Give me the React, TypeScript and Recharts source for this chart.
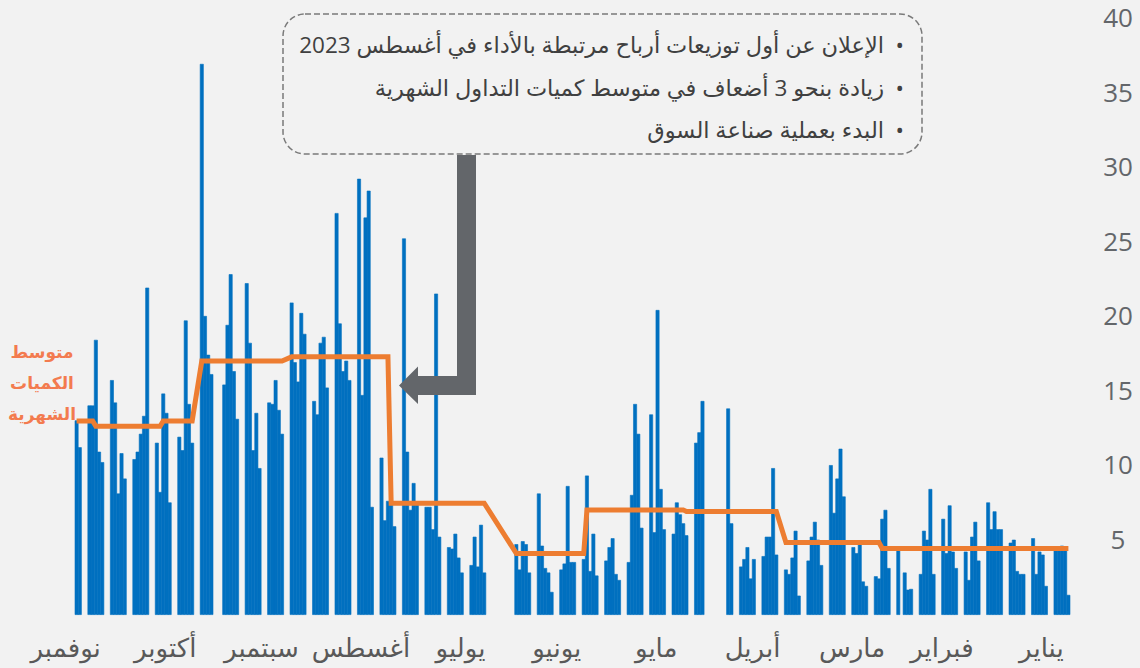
import { ComposedChart, Bar, Line, XAxis, YAxis } from "recharts";

const YEAR = 2023;
const MONTHS = ["يناير", "فبراير", "مارس", "أبريل", "مايو", "يونيو", "يوليو", "أغسطس", "سبتمبر", "أكتوبر", "نوفمبر"];

// daily traded volume, one value per trading day (Sun–Thu), chronological
const JAN = [1.3, 4.3, 4.6, 4.4, 4.5, 1.9, 4.0, 4.2, 2.7, 5.1, 2.7, 2.7, 2.9, 5.0, 4.8, 5.7, 5.7, 6.9, 5.7, 7.5, 3.6, 6.2, 5.2];
const FEB = [2.3, 4.2, 3.1, 4.2, 7.3, 4.1, 6.4, 2.7, 8.4, 5.0, 5.6, 2.7, 1.7, 1.65, 2.8, 4.3, 3.1, 7.0, 6.4];
const MAR = [2.4, 2.55, 1.9, 2.2, 4.7, 4.1, 4.5, 7.9, 11.1, 9.1, 6.8, 10.0, 3.3, 5.0, 6.2, 5.2, 3.6, 1.25, 5.6, 3.8, 2.7, 3.0];
const APR = [4.0, 9.8, 5.2, 5.2, 3.9, 3.7, 2.4, 4.5, 3.7, 3.2, 6.1, 13.8, 14.3, 12.2, 11.5, 5.3];
const MAY = [6.1, 6.7, 7.5, 5.4, 5.7, 8.4, 20.4, 5.5, 13.4, 5.8, 12.1, 14.1, 8.0, 3.5, 2.3, 2.7, 5.1, 4.5, 3.6, 2.6, 5.4, 2.9, 9.3];
const JUN = [3.7, 3.5, 3.5, 8.6, 3.4, 3.0, 1.5, 2.8, 3.1, 4.6, 8.1, 2.8, 4.7, 4.9, 3.0, 4.7];
const JUL = [2.8, 6.0, 3.2, 5.2, 3.3, 2.8, 3.8, 5.4, 4.4, 4.5, 5.2, 21.5, 5.7, 7.2, 7.2, 7.5, 8.8, 7.0, 10.9, 25.2, 5.9, 7.6];
const AUG = [7.6, 6.3, 10.5, 7.2, 28.4, 26.6, 14.7, 29.2, 15.7, 17.0, 16.3, 19.5, 26.9, 15.2, 18.6, 18.2, 13.4, 14.3, 18.8, 20.2, 15.6, 16.9, 20.9];
const SEP = [12.1, 13.7, 15.7, 14.1, 14.2, 9.8, 13.5, 11.0, 18.2, 22.2, 13.1, 16.3, 22.8, 19.4, 15.4, 16.1, 17.4, 20.0, 36.9];
const OCT = [11.5, 14.1, 19.7, 11.0, 11.9, 7.5, 13.5, 14.8, 8.2, 11.5, 21.9, 13.3, 12.1, 10.9, 10.4, 9.1, 10.8, 8.1, 14.2, 15.7, 10.2, 10.9, 18.4];
const NOV = [14.0, 14.0, 11.2, 13.0];
const DAILY = [JAN, FEB, MAR, APR, MAY, JUN, JUL, AUG, SEP, OCT, NOV];

// market closed (besides Fri/Sat)
const HOLIDAYS = ["02-22", "04-18", "04-19", "04-20", "04-23", "04-24", "06-25", "06-26", "06-27", "06-28", "06-29", "09-24"];
const LAST_DAY = "11-06";

// monthly average volume (orange step line): [from MM-DD, value]
const AVG_STEPS: [string, number][] = [
  ["01-01", 4.43],
  ["03-01", 4.83],
  ["04-01", 6.91],
  ["05-01", 7.02],
  ["06-01", 4.1],
  ["07-01", 7.47],
  ["08-01", 17.28],
  ["09-01", 17.0],
  ["10-01", 12.98],
  ["10-11", 12.62],
  ["11-01", 12.98],
];

const Y_TICKS = [5, 10, 15, 20, 25, 30, 35, 40];

const NOTES = [
  "الإعلان عن أول توزيعات أرباح مرتبطة بالأداء في أغسطس 2023",
  "زيادة بنحو 3 أضعاف في متوسط كميات التداول الشهرية",
  "البدء بعملية صناعة السوق",
];
const AVG_LABEL = ["متوسط", "الكميات", "الشهرية"];

const BLUE = "#0070C0";
const ORANGE = "#ED7D31";
const GREY = "#63666A";
const FONT = "'Open Sans', 'DejaVu Sans', sans-serif";

type Row = { d: number; month: number; first: boolean; vol: number | null; avg: number | null };

const pad = (n: number) => String(n).padStart(2, "0");

function avgFor(key: string) {
  let v = AVG_STEPS[0][1];
  for (const [from, val] of AVG_STEPS) if (from <= key) v = val;
  return v;
}

function buildRows(): Row[] {
  const rows: Row[] = [];
  const cursor = DAILY.map(() => 0);
  for (let d = 0; d < 400; d++) {
    const dt = new Date(Date.UTC(YEAR, 0, 1 + d));
    const m = dt.getUTCMonth();
    const day = dt.getUTCDate();
    const key = `${pad(m + 1)}-${pad(day)}`;
    const trading = dt.getUTCDay() <= 4 && !HOLIDAYS.includes(key);
    let vol: number | null = null;
    let avg: number | null = null;
    if (trading) {
      vol = DAILY[m][cursor[m]++] ?? null;
      avg = avgFor(key);
    }
    rows.push({ d, month: m, first: day === 1, vol, avg });
    if (key === LAST_DAY) break;
  }
  return rows;
}

const ROWS = buildRows();
const MONTH_TICKS = ROWS.filter((r) => r.first).map((r) => r.d);

function MonthTick({ x, y, payload }: any) {
  const row = ROWS[payload.value];
  return (
    <text x={x - 27} y={y + 34} textAnchor="middle" fill="#595959" fontSize={26} fontFamily={FONT}>
      {MONTHS[row.month]}
    </text>
  );
}

function ValueTick({ x, y, payload }: any) {
  return (
    <text x={x + 40} y={y} dy={9} textAnchor="middle" fill={GREY} fontSize={26} fontFamily={FONT}>
      {payload.value}
    </text>
  );
}

export default function App() {
  return (
    <div style={{ position: "absolute", left: 0, top: 0, width: 1140, height: 668, background: "#F2F2F2", overflow: "hidden" }}>
      <ComposedChart
        width={1140}
        height={668}
        data={ROWS}
        margin={{ top: 18, right: 0, bottom: 0, left: 75 }}
        barCategoryGap={0}
        barGap={0}
      >
        <XAxis
          dataKey="d"
          type="category"
          reversed
          ticks={MONTH_TICKS}
          interval={0}
          axisLine={false}
          tickLine={false}
          height={53.4}
          tick={<MonthTick />}
        />
        <YAxis
          orientation="right"
          domain={[0, 40]}
          ticks={Y_TICKS}
          axisLine={false}
          tickLine={false}
          width={70}
          tick={<ValueTick />}
        />
        <Bar dataKey="vol" fill={BLUE} stroke={BLUE} strokeWidth={0.6} barSize={3.2} isAnimationActive={false} />
        <Line
          dataKey="avg"
          type="linear"
          stroke={ORANGE}
          strokeWidth={5}
          dot={false}
          activeDot={false}
          connectNulls
          isAnimationActive={false}
        />
      </ComposedChart>

      <svg width={1140} height={668} style={{ position: "absolute", left: 0, top: 0, pointerEvents: "none" }}>
        <rect x={283} y={14} width={639} height={140} rx={22} fill="none" stroke="#7A7A7A" strokeWidth={1.5} strokeDasharray="6 3" />
        <polygon
          points="457,155 476,155 476,395 418,395 418,404 399,385.5 418,366.5 418,376 457,376"
          fill={GREY}
        />
      </svg>

      <div
        style={{
          position: "absolute",
          left: 283,
          top: 24,
          width: 621,
          direction: "rtl",
          fontFamily: FONT,
          fontSize: 22.5,
          color: "#404040",
        }}
      >
        {NOTES.map((t) => (
          <div key={t} style={{ height: 42.5, lineHeight: "42.5px", whiteSpace: "nowrap" }}>
            <span style={{ display: "inline-block", width: 20 }}>•</span>
            {t}
          </div>
        ))}
      </div>

      <div
        style={{
          position: "absolute",
          left: 0,
          top: 336,
          width: 84,
          textAlign: "center",
          direction: "rtl",
          fontFamily: FONT,
          fontSize: 17,
          fontWeight: "bold",
          lineHeight: "31px",
          color: "#F37B4F",
        }}
      >
        {AVG_LABEL.map((t) => (
          <div key={t}>{t}</div>
        ))}
      </div>
    </div>
  );
}
